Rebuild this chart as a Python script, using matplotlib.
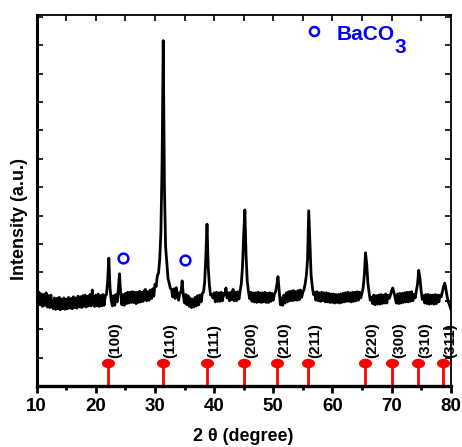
import numpy as np
import matplotlib
matplotlib.use('Agg')
import matplotlib.pyplot as plt
from matplotlib.markers import MarkerStyle
from matplotlib.transforms import Affine2D
from matplotlib.ticker import MultipleLocator, NullFormatter

plt.rcParams['font.family'] = ['Liberation Sans', 'DejaVu Sans']
plt.rcParams['font.weight'] = 'bold'

# ---- data ----
two_theta = np.round(np.arange(10.0, 80.01, 0.2), 1)
intensity = [
    3.26, 2.84, 3.30, 2.86, 3.24,  # 10
    2.80, 3.22, 2.84, 3.28, 2.78,  # 11
    3.18, 2.76, 3.20, 2.80, 2.72,  # 12
    3.10, 2.70, 3.08, 2.72, 3.12,  # 13
    2.68, 3.06, 2.72, 3.10, 2.70,  # 14
    3.06, 2.72, 3.12, 2.74, 3.08,  # 15
    2.72, 3.14, 2.76, 3.10, 2.74,  # 16
    3.16, 2.78, 3.14, 2.76, 3.18,  # 17
    2.80, 3.20, 2.78, 3.16, 2.82,  # 18
    3.22, 2.82, 3.38, 2.88, 2.80,  # 19
    3.20, 2.82, 3.24, 2.80, 3.18,  # 20
    2.82, 3.22, 2.84, 3.18, 3.22,  # 21
    3.70, 4.50, 3.45, 3.02, 2.82,  # 22
    3.18, 2.84, 3.22, 2.96, 3.40,  # 23
    3.95, 3.25, 2.86, 3.22, 2.84,  # 24
    3.26, 2.90, 3.30, 2.92, 3.30,  # 25
    2.94, 3.32, 2.94, 3.30, 2.90,  # 26
    3.30, 2.94, 3.34, 2.96, 3.30,  # 27
    2.98, 3.36, 3.40, 3.00, 3.32,  # 28
    3.02, 3.38, 3.08, 3.42, 3.16,  # 29
    3.58, 3.50, 3.88, 3.98, 4.45,  # 30
    5.40, 7.80, 12.16, 7.00, 4.90,  # 31
    4.35, 3.80, 3.62, 3.44, 3.40,  # 32
    3.14, 3.42, 3.08, 3.46, 3.22,  # 33
    3.02, 3.28, 3.30, 3.70, 3.18,  # 34
    2.92, 3.22, 2.86, 3.18, 2.80,  # 35
    3.08, 2.76, 3.06, 2.78, 3.12,  # 36
    2.82, 3.18, 2.86, 3.20, 2.96,  # 37
    3.26, 3.30, 3.65, 4.55, 5.70,  # 38
    4.20, 3.55, 3.20, 3.22, 3.10,  # 39
    3.28, 2.96, 3.30, 2.98, 3.28,  # 40
    2.98, 3.30, 3.00, 3.26, 3.20,  # 41
    3.45, 3.10, 3.28, 3.00, 3.30,  # 42
    3.04, 3.40, 3.00, 3.30, 3.00,  # 43
    3.32, 3.06, 3.35, 3.60, 4.20,  # 44
    5.30, 6.20, 4.60, 3.70, 3.35,  # 45
    3.08, 3.30, 2.98, 3.28, 2.96,  # 46
    3.28, 2.94, 3.30, 2.96, 3.28,  # 47
    2.94, 3.28, 2.96, 3.30, 2.94,  # 48
    3.26, 2.94, 3.28, 2.98, 3.26,  # 49
    3.02, 3.24, 3.32, 3.55, 3.85,  # 50
    3.35, 2.86, 3.10, 2.84, 3.20,  # 51
    2.92, 3.28, 2.96, 3.32, 3.00,  # 52
    3.34, 3.00, 3.36, 3.02, 3.32,  # 53
    3.02, 3.36, 3.04, 3.38, 3.12,  # 54
    3.30, 3.40, 3.60, 3.90, 4.45,  # 55
    6.17, 5.00, 3.90, 3.50, 3.22,  # 56
    3.30, 3.02, 3.32, 3.00, 3.28,  # 57
    2.98, 3.30, 3.00, 3.28, 2.96,  # 58
    3.28, 2.96, 3.26, 2.94, 3.24,  # 59
    2.94, 3.24, 2.92, 3.22, 2.94,  # 60
    3.22, 2.92, 3.24, 2.94, 3.26,  # 61
    2.96, 3.28, 2.98, 3.30, 2.98,  # 62
    3.28, 2.96, 3.30, 2.98, 3.30,  # 63
    3.00, 3.32, 3.02, 3.30, 3.10,  # 64
    3.28, 3.45, 3.90, 4.69, 4.30,  # 65
    3.62, 3.30, 3.02, 3.12, 2.90,  # 66
    3.20, 2.86, 3.18, 2.88, 3.20,  # 67
    2.88, 3.22, 2.90, 3.20, 2.92,  # 68
    3.24, 2.92, 3.20, 3.08, 3.18,  # 69
    3.35, 3.45, 3.30, 3.12, 2.92,  # 70
    3.24, 2.90, 3.26, 2.92, 3.26,  # 71
    2.94, 3.28, 2.96, 3.30, 2.96,  # 72
    3.30, 2.98, 3.32, 3.00, 3.22,  # 73
    3.10, 3.35, 3.60, 4.07, 3.80,  # 74
    3.35, 3.05, 3.18, 2.92, 3.22,  # 75
    2.90, 3.22, 2.88, 3.20, 2.90,  # 76
    3.20, 2.88, 3.22, 2.90, 3.20,  # 77
    2.96, 3.20, 3.14, 3.32, 3.50,  # 78
    3.62, 3.40, 3.15, 2.96, 2.86,  # 79
    2.72,                          # 80
]

ref_pos = [22.0, 31.4, 38.75, 45.0, 50.6, 55.9, 65.5, 70.0, 74.5, 78.75]
ref_hkl = ['(100)', '(110)', '(111)', '(200)', '(210)', '(211)',
           '(220)', '(300)', '(310)', '(311)']
ref_height = [0.8] * len(ref_pos)

baco3_x = [24.6, 35.1]
baco3_y = [4.5, 4.45]

x_ticks = [10, 20, 30, 40, 50, 60, 70, 80]

# ---- figure ----
fig = plt.figure(figsize=(4.62, 4.47), dpi=100)
ax = fig.add_axes([0.0794, 0.1365, 0.8961, 0.8305])

ax.plot(two_theta, intensity, color='black', lw=2.0, solid_joinstyle='round')

# reference sticks
ell = MarkerStyle('o', transform=Affine2D().scale(1.45, 1.0))
for xp, h, lab in zip(ref_pos, ref_height, ref_hkl):
    ax.plot([xp, xp], [0, h], color='#ff0000', lw=2.0, solid_capstyle='butt')
    ax.text(xp + 1.25, 0.98, lab, rotation=90, ha='center', va='bottom',
            fontsize=11, fontweight='bold', color='black')
ax.plot(ref_pos, ref_height, ls='none', marker=ell, ms=5.8,
        color='#ff0000', mec='#ff0000')

# BaCO3 markers
ax.plot(baco3_x, baco3_y, ls='none', marker='o', ms=7, mfc='none',
        mec='#0000ff', mew=1.8)
ax.plot([56.9], [12.5], ls='none', marker='o', ms=6.5, mfc='none',
        mec='#0000ff', mew=1.8)
ax.text(60.75, 12.18, 'BaCO', color='#0000ff', fontsize=15,
        fontweight='bold', ha='left', va='baseline')
ax.text(70.5, 11.73, '3', color='#0000ff', fontsize=15,
        fontweight='bold', ha='left', va='baseline')

ax.set_xlim(10, 80)
ax.set_ylim(0, 13.07)
ax.set_xticks(x_ticks)
ax.xaxis.set_minor_locator(MultipleLocator(5))
ax.set_yticks(np.arange(1, 14))
ax.yaxis.set_major_formatter(NullFormatter())

ax.tick_params(axis='x', which='major', direction='out', length=5, width=2,
               labelsize=13.5, pad=4, bottom=True, top=False)
ax.tick_params(axis='x', which='minor', direction='out', length=3, width=2,
               bottom=True, top=False)
ax.tick_params(axis='y', which='major', direction='in', length=4, width=1.2,
               left=True, right=True)
for lab in ax.get_xticklabels():
    lab.set_fontweight('bold')

sec = ax.secondary_xaxis('top')
sec.set_xticks(np.arange(15, 80, 5))
sec.tick_params(direction='in', length=4, width=1.2, labeltop=False)
sec.xaxis.set_major_formatter(NullFormatter())
sec.spines['top'].set_visible(False)

ax.spines['left'].set_linewidth(2.2)
ax.spines['bottom'].set_linewidth(2.4)
ax.spines['top'].set_linewidth(1.3)
ax.spines['right'].set_linewidth(1.3)

ax.set_xlabel('2 θ (degree)', fontsize=13, fontweight='bold', labelpad=9)
ax.set_ylabel('Intensity (a.u.)', fontsize=13, fontweight='bold')
ax.yaxis.set_label_coords(-0.02, 0.45)

fig.savefig('out.png', dpi=100)
